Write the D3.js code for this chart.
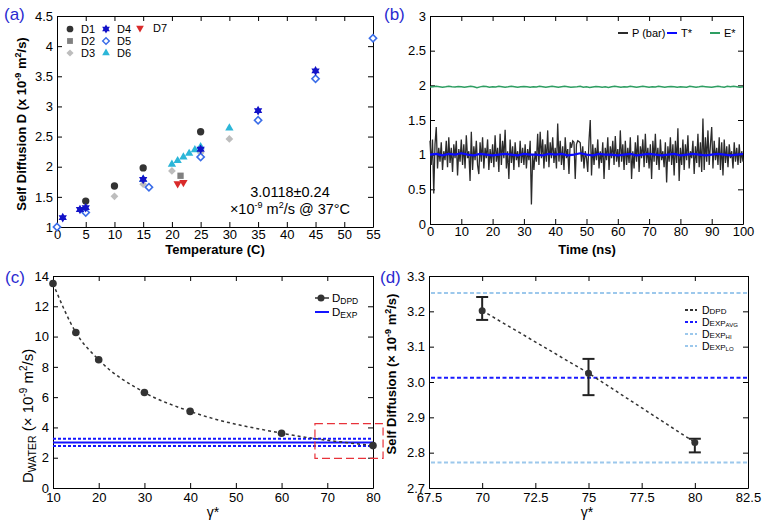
<!DOCTYPE html>
<html><head><meta charset="utf-8">
<script src="https://cdn.jsdelivr.net/npm/d3@7"></script>
<style>body{margin:0;background:#fff} svg{display:block} text{font-family:Arial,"Liberation Sans",sans-serif}</style>
</head><body><svg id="chart" width="762" height="531"></svg>
<script>
// ---------- Panel (a) data ----------
const tempD1 = [5, 10, 15, 25],               valD1 = [1.43, 1.68, 1.98, 2.58];
const tempD2 = [21.5],                        valD2 = [1.85];
const tempD3 = [10, 15, 20, 25, 30],          valD3 = [1.51, 1.71, 1.93, 2.23, 2.46];
const tempD4 = [1, 4, 5, 15, 25, 35, 45],     valD4 = [1.155, 1.29, 1.32, 1.79, 2.29, 2.93, 3.59];
const tempD5 = [0, 5, 16, 25, 35, 45, 55],    valD5 = [1.0, 1.24, 1.66, 2.16, 2.77, 3.46, 4.13];
const tempD6 = [15, 20, 21, 22, 23, 24, 25, 30], valD6 = [1.79, 2.04, 2.10, 2.16, 2.22, 2.28, 2.33, 2.64];
const tempD7 = [21, 22],                      valD7 = [1.72, 1.74];
const seriesNamesA = ["D1", "D2", "D3", "D4", "D5", "D6", "D7"];
const tempTicks = [0, 5, 10, 15, 20, 25, 30, 35, 40, 45, 50, 55];
const diffTicksA = [1, 1.5, 2, 2.5, 3, 3.5, 4, 4.5];

// ---------- Panel (b) data ----------
const timeStepP = 0.4;
const pressureP = [
1.20,0.85,1.22,0.44,1.15,1.40,0.80,1.10,0.90,1.18,0.78,1.05,0.92,1.20,0.82,1.25,0.88,1.10,0.75,1.15,0.95,1.20,0.70,1.08,0.90,
1.22,0.85,1.15,0.80,1.28,0.95,1.05,0.62,1.33,0.78,1.12,0.92,1.20,0.85,0.72,1.18,0.90,1.25,0.80,1.10,0.95,1.22,0.78,1.08,0.88,
1.15,0.82,1.28,0.90,1.10,0.75,1.30,0.85,1.20,0.95,1.36,0.80,1.05,0.65,1.22,0.88,1.12,0.78,1.18,0.92,1.05,0.82,1.20,0.88,1.10,
0.85,1.15,0.80,1.08,0.92,1.20,0.28,1.00,0.78,1.05,0.90,1.30,0.85,1.33,0.95,1.22,0.80,1.15,0.90,1.35,0.82,1.18,0.95,1.25,0.88,
1.10,0.80,1.45,0.90,1.20,0.85,1.12,0.78,1.25,0.95,1.08,0.72,1.18,1.10,1.20,1.18,0.65,1.15,1.20,1.19,1.17,0.90,1.12,0.80,1.05,
0.95,0.75,1.20,1.50,0.70,1.15,0.85,1.10,0.92,1.22,0.80,1.05,0.88,1.18,0.65,1.10,0.92,1.25,0.78,1.12,0.95,1.20,0.85,1.27,0.90,
1.08,0.82,1.35,0.90,1.15,0.78,1.20,0.85,1.10,0.88,1.25,0.65,1.05,0.80,1.18,0.90,1.28,0.75,1.12,0.95,1.22,0.82,1.30,0.88,1.10,
0.80,1.15,0.65,1.20,0.90,1.30,0.85,1.10,0.78,1.22,0.92,1.05,0.82,1.18,0.60,1.12,0.90,1.25,0.85,1.15,0.70,1.20,0.88,1.38,0.62,
1.10,0.85,1.22,0.78,1.15,0.92,1.28,0.80,1.05,0.95,1.20,0.72,1.12,0.88,1.30,0.82,1.18,0.75,1.52,0.78,1.25,0.90,1.35,0.85,1.15,
1.40,0.80,1.20,0.92,1.10,0.85,1.25,0.78,1.18,0.70,1.22,0.88,1.12,0.82,1.15,0.95,1.05,0.80,1.18,0.90,1.10,0.85,1.15,0.88,1.05,0.90];
const timeStepT = 2;
const tempStarT = [1.00,1.01,0.99,1.01,1.00,1.02,1.00,0.99,1.01,1.00,0.99,1.00,1.01,1.00,0.99,1.01,1.00,1.00,0.99,1.01,1.00,1.01,0.99,1.00,1.02,1.00,0.99,1.01,1.00,1.00,0.99,1.00,1.01,0.99,1.00,1.01,1.00,0.99,1.00,1.01,0.99,1.00,1.01,1.00,0.99,1.00,1.01,1.00,0.99,1.00,1.01];
const timeStepE = 1;
const energyStarE = [
1.975,1.98,1.985,1.98,1.972,1.978,1.986,1.98,1.976,1.984,1.98,1.971,1.979,1.987,1.98,1.965,1.978,1.985,1.982,1.974,
1.98,1.977,1.986,1.981,1.973,1.979,1.988,1.98,1.972,1.978,1.984,1.979,1.974,1.981,1.977,1.985,1.98,1.971,1.978,1.986,
1.98,1.973,1.979,1.985,1.98,1.972,1.977,1.981,1.986,1.972,1.979,1.968,1.977,1.984,1.98,1.974,1.979,1.97,1.978,1.985,
1.981,1.974,1.979,1.976,1.986,1.98,1.972,1.978,1.985,1.981,1.973,1.979,1.977,1.986,1.98,1.971,1.978,1.984,1.979,1.973,
1.98,1.977,1.972,1.986,1.98,1.974,1.979,1.987,1.981,1.976,1.972,1.98,1.988,1.98,1.974,1.986,1.979,1.985,1.98,1.974,1.978];
const timeTicks = [0, 10, 20, 30, 40, 50, 60, 70, 80, 90, 100];
const valueTicksB = [0, 0.5, 1, 1.5, 2, 2.5, 3];

// ---------- Panel (c) data ----------
const gammaC = [10, 15, 20, 30, 40, 60, 80];
const dWaterC = [13.5, 10.27, 8.47, 6.31, 5.06, 3.62, 2.80];
const dExpAvg = 3.0118, dExpHi = 3.252, dExpLo = 2.772;
const zoomBoxGamma = [67.3, 82.2], zoomBoxD = [1.95, 4.25];
const gammaTicksC = [10, 20, 30, 40, 50, 60, 70, 80];
const dTicksC = [0, 2, 4, 6, 8, 10, 12, 14];

// ---------- Panel (d) data ----------
const gammaD = [70, 75, 80];
const dDpdD = [3.202, 3.025, 2.829];
const errHiD = [3.2406, 3.0654, 2.8394];
const errLoD = [3.1757, 2.9628, 2.8008];
const gammaTicksD = [67.5, 70, 72.5, 75, 77.5, 80, 82.5];
const dTicksD = [2.7, 2.8, 2.9, 3.0, 3.1, 3.2, 3.3];

// ---------- helpers ----------
const svg = d3.select("#chart");
svg.append("rect").attr("width", 762).attr("height", 531).attr("fill", "#fff");
const FONT = "Arial, 'Liberation Sans', sans-serif";

function frame(x, y, xTicks, yTicks, xFmt, yFmt, xPad) {
  const [x0, x1] = x.range(), [y0, y1] = y.range();
  const g = svg.append("g");
  const axes = [
    g.append("g").attr("transform", `translate(0,${y0})`).call(d3.axisBottom(x).tickValues(xTicks).tickFormat(xFmt).tickSize(-5).tickSizeOuter(0).tickPadding(xPad)),
    g.append("g").attr("transform", `translate(0,${y1})`).call(d3.axisTop(x).tickValues(xTicks).tickFormat("").tickSize(-5).tickSizeOuter(0)),
    g.append("g").attr("transform", `translate(${x0},0)`).call(d3.axisLeft(y).tickValues(yTicks).tickFormat(yFmt).tickSize(-5).tickSizeOuter(0).tickPadding(4)),
    g.append("g").attr("transform", `translate(${x1},0)`).call(d3.axisRight(y).tickValues(yTicks).tickFormat("").tickSize(-5).tickSizeOuter(0))
  ];
  axes.forEach(a => {
    a.attr("font-family", FONT).attr("font-size", 13);
    a.selectAll("path,line").attr("stroke", "#000").attr("stroke-width", 1);
    a.selectAll("text").attr("fill", "#000");
  });
  return g;
}
function panelLabel(txt, x, y) {
  svg.append("text").attr("x", x).attr("y", y).attr("font-size", 17).attr("fill", "#2a2ad0").text(txt);
}
const hexagram = {
  draw(ctx, size) {
    const r = Math.sqrt(size) * 0.62;
    for (const off of [-Math.PI / 2, Math.PI / 2]) {
      for (let k = 0; k < 3; k++) {
        const a = off + k * 2 * Math.PI / 3;
        const px = r * Math.cos(a), py = r * Math.sin(a);
        if (k === 0) ctx.moveTo(px, py); else ctx.lineTo(px, py);
      }
      ctx.closePath();
    }
  }
};

// ================= Panel (a) =================
{
  const x = d3.scaleLinear().domain([0, 55]).range([57, 373]);
  const y = d3.scaleLinear().domain([1, 4.5]).range([227, 16]);
  frame(x, y, tempTicks, diffTicksA, d3.format("d"), d => String(d), 3);
  const styles = {
    D1: { sym: d3.symbolCircle, size: 42, fill: "#333333", stroke: "none", rot: 0 },
    D2: { sym: d3.symbolSquare, size: 40, fill: "#808080", stroke: "none", rot: 0 },
    D3: { sym: d3.symbolSquare, size: 30, fill: "#bdbdbd", stroke: "none", rot: 45 },
    D4: { sym: hexagram, size: 60, fill: "#1212c8", stroke: "none", rot: 0 },
    D5: { sym: d3.symbolSquare, size: 26, fill: "#fff", stroke: "#3a6de8", rot: 45 },
    D6: { sym: d3.symbolTriangle, size: 30, fill: "#2cb6d8", stroke: "none", rot: 0 },
    D7: { sym: d3.symbolTriangle, size: 30, fill: "#d92a2a", stroke: "none", rot: 180 }
  };
  const data = {
    D1: [tempD1, valD1], D2: [tempD2, valD2], D3: [tempD3, valD3], D4: [tempD4, valD4],
    D5: [tempD5, valD5], D6: [tempD6, valD6], D7: [tempD7, valD7]
  };
  const order = ["D3", "D2", "D7", "D1", "D6", "D5", "D4"];
  order.forEach(name => {
    const s = styles[name], [xs, ys] = data[name];
    svg.append("g").selectAll("path").data(xs).join("path")
      .attr("d", d3.symbol(s.sym, s.size))
      .attr("transform", (d, i) => `translate(${x(d)},${y(ys[i])}) rotate(${s.rot})`)
      .attr("fill", s.fill).attr("stroke", s.stroke).attr("stroke-width", 1.6);
  });
  // legend
  const legPos = { D1: [70, 29], D2: [70, 41], D3: [70, 53], D4: [106, 29], D5: [106, 41], D6: [106, 53], D7: [140, 28] };
  seriesNamesA.forEach(name => {
    const s = styles[name], [lx, ly] = legPos[name];
    svg.append("path").attr("d", d3.symbol(s.sym, s.size * 0.85))
      .attr("transform", `translate(${lx},${ly}) rotate(${s.rot})`)
      .attr("fill", s.fill).attr("stroke", s.stroke).attr("stroke-width", 1.4);
    svg.append("text").attr("x", lx + (name === "D7" ? 13 : 11)).attr("y", ly + 4).attr("font-size", 11).text(name);
  });
  // annotation
  svg.append("text").attr("x", 290).attr("y", 197).attr("text-anchor", "middle").attr("font-size", 14.5).text("3.0118±0.24");
  const t2 = svg.append("text").attr("x", 290).attr("y", 214).attr("text-anchor", "middle").attr("font-size", 14.5);
  t2.append("tspan").text("×10");
  t2.append("tspan").attr("dy", -6).attr("font-size", 9).text("-9");
  t2.append("tspan").attr("dy", 6).text(" m");
  t2.append("tspan").attr("dy", -6).attr("font-size", 9).text("2");
  t2.append("tspan").attr("dy", 6).text("/s @ 37°C");
  // titles
  svg.append("text").attr("x", 215).attr("y", 254).attr("text-anchor", "middle").attr("font-size", 13).attr("font-weight", "bold").text("Temperature (C)");
  const yt = svg.append("text").attr("transform", "translate(26,124) rotate(-90)").attr("text-anchor", "middle").attr("font-size", 13).attr("font-weight", "bold");
  yt.append("tspan").text("Self Diffusion D (x 10");
  yt.append("tspan").attr("dy", -5).attr("font-size", 9).text("-9");
  yt.append("tspan").attr("dy", 5).text(" m");
  yt.append("tspan").attr("dy", -5).attr("font-size", 9).text("2");
  yt.append("tspan").attr("dy", 5).text("/s)");
  panelLabel("(a)", 4, 20);
}

// ================= Panel (b) =================
{
  const x = d3.scaleLinear().domain([0, 100]).range([430, 743]);
  const y = d3.scaleLinear().domain([0, 3]).range([224, 16]);
  frame(x, y, timeTicks, valueTicksB, d3.format("d"), d => String(d), 3);
  const line = (step) => d3.line().x((d, i) => x(i * step)).y(d => y(d));
  svg.append("path").datum(energyStarE).attr("d", line(timeStepE)).attr("fill", "none").attr("stroke", "#2e9e62").attr("stroke-width", 1.5);
  svg.append("path").datum(pressureP).attr("d", line(timeStepP)).attr("fill", "none").attr("stroke", "#2b2b2b").attr("stroke-width", 1.3);
  svg.append("path").datum(tempStarT).attr("d", line(timeStepT)).attr("fill", "none").attr("stroke", "#0a0aff").attr("stroke-width", 2.2);
  const leg = [["P (bar)", "#2b2b2b", 618], ["T*", "#0a0aff", 667], ["E*", "#2e9e62", 710]];
  leg.forEach(([lab, col, lx]) => {
    svg.append("line").attr("x1", lx).attr("x2", lx + 10).attr("y1", 33).attr("y2", 33).attr("stroke", col).attr("stroke-width", 2);
    svg.append("text").attr("x", lx + 14).attr("y", 37).attr("font-size", 11).text(lab);
  });
  svg.append("text").attr("x", 587).attr("y", 254).attr("text-anchor", "middle").attr("font-size", 13).attr("font-weight", "bold").text("Time (ns)");
  panelLabel("(b)", 384, 20);
}

// ================= Panel (c) =================
{
  const x = d3.scaleLinear().domain([10, 80]).range([53, 373]);
  const y = d3.scaleLinear().domain([0, 14]).range([488, 276]);
  frame(x, y, gammaTicksC, dTicksC, d3.format("d"), d3.format("d"), 5);
  const [x0, x1] = x.range();
  svg.append("line").attr("x1", x0).attr("x2", x1).attr("y1", y(dExpAvg)).attr("y2", y(dExpAvg)).attr("stroke", "#1414ff").attr("stroke-width", 2);
  [dExpHi, dExpLo].forEach(v => svg.append("line").attr("x1", x0).attr("x2", x1).attr("y1", y(v)).attr("y2", y(v))
    .attr("stroke", "#1414ff").attr("stroke-width", 2).attr("stroke-dasharray", "3,2"));
  svg.append("path").datum(gammaC).attr("d", d3.line().curve(d3.curveMonotoneX).x(d => x(d)).y((d, i) => y(dWaterC[i])))
    .attr("fill", "none").attr("stroke", "#333").attr("stroke-width", 1.5).attr("stroke-dasharray", "3,3");
  svg.append("g").selectAll("circle").data(gammaC).join("circle")
    .attr("cx", d => x(d)).attr("cy", (d, i) => y(dWaterC[i])).attr("r", 3.8).attr("fill", "#333");
  svg.append("rect").attr("x", x(zoomBoxGamma[0])).attr("y", y(zoomBoxD[1]))
    .attr("width", x(zoomBoxGamma[1]) - x(zoomBoxGamma[0])).attr("height", y(zoomBoxD[0]) - y(zoomBoxD[1]))
    .attr("fill", "none").attr("stroke", "#e8323a").attr("stroke-width", 1.2).attr("stroke-dasharray", "8,4");
  // legend
  svg.append("line").attr("x1", 315).attr("x2", 329).attr("y1", 298).attr("y2", 298).attr("stroke", "#333").attr("stroke-width", 1.5);
  svg.append("circle").attr("cx", 321).attr("cy", 298).attr("r", 3.5).attr("fill", "#333");
  svg.append("line").attr("x1", 315).attr("x2", 329).attr("y1", 312).attr("y2", 312).attr("stroke", "#1414ff").attr("stroke-width", 2);
  [["DPD", 298], ["EXP", 312]].forEach(([sub, ly]) => {
    const t = svg.append("text").attr("x", 332).attr("y", ly + 4).attr("font-size", 11.5);
    t.append("tspan").text("D");
    t.append("tspan").attr("dy", 1.5).attr("font-size", 8.5).text(sub);
  });
  svg.append("text").attr("x", 213).attr("y", 517).attr("text-anchor", "middle").attr("font-size", 14).text("γ*");
  const yt = svg.append("text").attr("transform", "translate(33,483) rotate(-90)").attr("text-anchor", "start").attr("font-size", 15);
  yt.append("tspan").text("D");
  yt.append("tspan").attr("dy", 3).attr("font-size", 10.5).text("WATER");
  yt.append("tspan").attr("dy", -3).text(" (× 10");
  yt.append("tspan").attr("dy", -6).attr("font-size", 10).text("-9");
  yt.append("tspan").attr("dy", 6).text(" m");
  yt.append("tspan").attr("dy", -6).attr("font-size", 10).text("2");
  yt.append("tspan").attr("dy", 6).text("/s)");
  panelLabel("(c)", 5, 283);
}

// ================= Panel (d) =================
{
  const x = d3.scaleLinear().domain([67.5, 82.5]).range([429, 748]);
  const y = d3.scaleLinear().domain([2.7, 3.3]).range([488, 276]);
  frame(x, y, gammaTicksD, dTicksD, d => String(d), d3.format(".1f"), 5);
  const [x0, x1] = x.range();
  const hl = [[dExpHi, "#9cc8ec"], [dExpLo, "#9cc8ec"], [dExpAvg, "#1a1aff"]];
  hl.forEach(([v, col]) => svg.append("line").attr("x1", x0 + 2).attr("x2", x1).attr("y1", y(v)).attr("y2", y(v))
    .attr("stroke", col).attr("stroke-width", 2).attr("stroke-dasharray", "4,2.5"));
  svg.append("path").datum(gammaD).attr("d", d3.line().x(d => x(d)).y((d, i) => y(dDpdD[i])))
    .attr("fill", "none").attr("stroke", "#333").attr("stroke-width", 1.5).attr("stroke-dasharray", "3,3");
  const eb = svg.append("g").attr("stroke", "#222").attr("stroke-width", 2);
  gammaD.forEach((g, i) => {
    eb.append("line").attr("x1", x(g)).attr("x2", x(g)).attr("y1", y(errHiD[i])).attr("y2", y(errLoD[i]));
    eb.append("line").attr("x1", x(g) - 6).attr("x2", x(g) + 6).attr("y1", y(errHiD[i])).attr("y2", y(errHiD[i]));
    eb.append("line").attr("x1", x(g) - 6).attr("x2", x(g) + 6).attr("y1", y(errLoD[i])).attr("y2", y(errLoD[i]));
  });
  svg.append("g").selectAll("circle").data(gammaD).join("circle")
    .attr("cx", d => x(d)).attr("cy", (d, i) => y(dDpdD[i])).attr("r", 3.5).attr("fill", "#333");
  // legend
  const leg = [["DPD", "", "#333", 310], ["EXP", "AVG", "#1a1aff", 322], ["EXP", "HI", "#9cc8ec", 334], ["EXP", "LO", "#9cc8ec", 346]];
  leg.forEach(([s1, s2, col, ly]) => {
    svg.append("line").attr("x1", 685).attr("x2", 697).attr("y1", ly).attr("y2", ly).attr("stroke", col).attr("stroke-width", 1.8).attr("stroke-dasharray", "3,2");
    const t = svg.append("text").attr("x", 702).attr("y", ly + 3.5).attr("font-size", 10.5);
    t.append("tspan").text("D");
    t.append("tspan").attr("dy", 0.5).attr("font-size", 8).text(s1);
    if (s2) t.append("tspan").attr("dy", 1).attr("font-size", 6).text(s2);
  });
  svg.append("text").attr("x", 587).attr("y", 517).attr("text-anchor", "middle").attr("font-size", 14).text("γ*");
  const yt = svg.append("text").attr("transform", "translate(396,374) rotate(-90)").attr("text-anchor", "middle").attr("font-size", 13).attr("font-weight", "bold");
  yt.append("tspan").text("Self Diffusion (× 10");
  yt.append("tspan").attr("dy", -5).attr("font-size", 9).text("-9");
  yt.append("tspan").attr("dy", 5).text(" m");
  yt.append("tspan").attr("dy", -5).attr("font-size", 9).text("2");
  yt.append("tspan").attr("dy", 5).text("/s)");
  panelLabel("(d)", 380, 283);
}
</script></body></html>
